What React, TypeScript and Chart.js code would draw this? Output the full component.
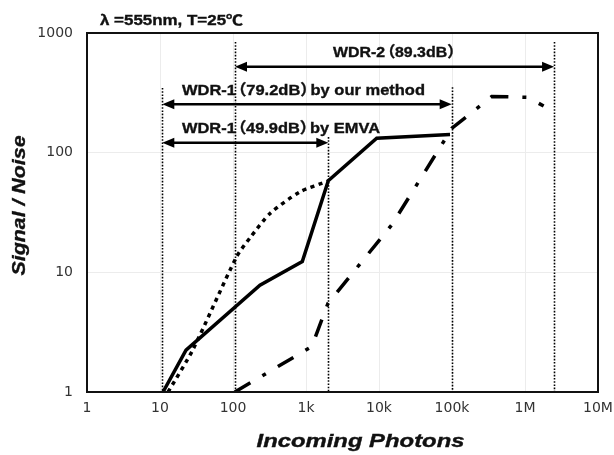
import React, { useEffect, useRef } from "react";
import { Chart, registerables } from "chart.js";

Chart.register(...registerables);

// ---- data ----
const xTickValues = [1, 10, 100, 1e3, 1e4, 1e5, 1e6, 1e7];
const xTickLabels = ["1", "10", "100", "1k", "10k", "100k", "1M", "10M"];
const yTickValues = [1, 10, 100, 1000];
const yTickLabels = ["1", "10", "100", "1000"];

const solidX = [11, 22.7, 234, 890, 2020, 9300, 94000];
const solidY = [1, 2.24, 7.8, 12.3, 58.3, 132, 142];

const dottedX = [12.9, 28, 112, 171, 321, 827, 2020];
const dottedY = [1, 2.24, 13.5, 19.4, 31, 47, 58];

const dashDotX = [106, 1200, 2000, 15000, 100000, 350000, 1100000, 1800000];
const dashDotY = [1, 2.4, 5.5, 25, 160, 295, 290, 245];

// vertical dotted reference lines (x value, top y value)
const markerX = [10.75, 106.5, 2020, 99000, 2.5e6];
const markerTop = [347, 841, 135, 352, 841];

// WDR range arrows
const arrowText = ["WDR-2（89.3dB）", "WDR-1（79.2dB）by our method", "WDR-1（49.9dB）by EMVA"];
const arrowFrom = [106.5, 10.75, 10.75];
const arrowTo = [2.5e6, 99000, 2020];
const arrowY = [522, 254, 121];

const titleText = "λ =555nm, T=25℃";
const xTitle = "Incoming Photons";
const yTitle = "Signal / Noise";

const toPts = (xs: number[], ys: number[]) => xs.map((x, i) => ({ x, y: ys[i] }));

const SANS = '"Liberation Sans", Arial, "Noto Sans CJK JP", sans-serif';
const CJK = '"Noto Sans CJK JP", sans-serif';

function drawFitted(
  ctx: CanvasRenderingContext2D,
  text: string,
  x: number,
  y: number,
  style: string,
  size: number,
  width: number,
  align: "left" | "center",
  rotate = false
) {
  ctx.save();
  const parts = text.split(/([（）])/).filter((p) => p.length > 0);
  const runs: { s: string; font: string; adv: number; off: number }[] = [];
  let total = 0;
  for (const p of parts) {
    if (p === "（" || p === "）") {
      const font = `${style} ${size}px ${CJK}`;
      const adv = size * 0.62;
      const off = p === "（" ? -size * 0.36 : size * 0.0;
      runs.push({ s: p, font, adv, off });
      total += adv;
    } else {
      const font = `${style} ${size}px ${SANS}`;
      ctx.font = font;
      const adv = ctx.measureText(p).width;
      runs.push({ s: p, font, adv, off: 0 });
      total += adv;
    }
  }
  const sx = width / total;
  ctx.translate(x, y);
  if (rotate) ctx.rotate(-Math.PI / 2);
  ctx.scale(sx, 1);
  let cx = align === "center" ? -total / 2 : 0;
  ctx.textAlign = "left";
  ctx.textBaseline = "alphabetic";
  ctx.fillStyle = "#111";
  ctx.strokeStyle = "#111";
  ctx.lineWidth = 0.35;
  for (const r of runs) {
    ctx.font = r.font;
    ctx.fillText(r.s, cx + r.off, 0);
    ctx.strokeText(r.s, cx + r.off, 0);
    cx += r.adv;
  }
  ctx.restore();
}

function arrowHead(ctx: CanvasRenderingContext2D, tipX: number, y: number, dir: number) {
  const len = 12;
  const half = 5;
  ctx.beginPath();
  ctx.moveTo(tipX, y);
  ctx.lineTo(tipX - dir * len, y - half);
  ctx.lineTo(tipX - dir * len, y + half);
  ctx.closePath();
  ctx.fill();
}

const decorPlugin = {
  id: "decor",
  beforeDatasetsDraw(chart: any) {
    const { ctx, chartArea, scales } = chart;
    const xs = scales.x;
    const ys = scales.y;
    ctx.save();
    ctx.strokeStyle = "#000";
    ctx.lineWidth = 1.6;
    ctx.setLineDash([1.6, 1.6]);
    markerX.forEach((v, i) => {
      const px = Math.round(xs.getPixelForValue(v)) + 0.5;
      const top = ys.getPixelForValue(markerTop[i]);
      ctx.beginPath();
      ctx.moveTo(px, top);
      ctx.lineTo(px, chartArea.bottom);
      ctx.stroke();
    });
    ctx.restore();
  },
  afterDatasetsDraw(chart: any) {
    const { ctx, chartArea, scales } = chart;
    const xs = scales.x;
    const ys = scales.y;
    ctx.save();
    ctx.strokeStyle = "#000";
    ctx.fillStyle = "#000";
    ctx.lineWidth = 2.5;
    arrowFrom.forEach((f, i) => {
      const x1 = xs.getPixelForValue(f);
      const x2 = xs.getPixelForValue(arrowTo[i]);
      const py = ys.getPixelForValue(arrowY[i]);
      ctx.beginPath();
      ctx.moveTo(x1 + 8, py);
      ctx.lineTo(x2 - 8, py);
      ctx.stroke();
      arrowHead(ctx, x1, py, -1);
      arrowHead(ctx, x2, py, 1);
    });
    ctx.lineWidth = 2;
    ctx.strokeStyle = "#111";
    ctx.strokeRect(chartArea.left, chartArea.top, chartArea.right - chartArea.left, chartArea.bottom - chartArea.top);
    ctx.restore();

    const L = chartArea.left;
    const T = chartArea.top;
    drawFitted(ctx, titleText, L + 13, T - 8, "bold", 14, 143, "left");
    drawFitted(ctx, arrowText[0], L + 246, T + 24, "bold", 15, 124, "left");
    drawFitted(ctx, arrowText[1], L + 95, T + 62, "bold", 15, 243, "left");
    drawFitted(ctx, arrowText[2], L + 95, T + 100, "bold", 15, 198, "left");
    drawFitted(ctx, xTitle, (chartArea.left + chartArea.right) / 2 + 18, chartArea.bottom + 55, "italic bold", 18, 208, "center");
    drawFitted(ctx, yTitle, L - 62, (chartArea.top + chartArea.bottom) / 2 - 7, "italic bold", 18, 140, "center", true);
  },
};

export default function App() {
  const ref = useRef<HTMLCanvasElement | null>(null);
  useEffect(() => {
    if (!ref.current) return;
    const chart = new Chart(ref.current, {
      type: "line",
      data: {
        datasets: [
          {
            data: toPts(solidX, solidY),
            borderColor: "#000",
            borderWidth: 3.5,
            pointRadius: 0,
            tension: 0,
          },
          {
            data: toPts(dottedX, dottedY),
            borderColor: "#000",
            borderWidth: 3.5,
            borderDash: [4, 4.5],
            pointRadius: 0,
            tension: 0.25,
          },
          {
            data: toPts(dashDotX, dashDotY),
            borderColor: "#000",
            borderWidth: 3.5,
            borderDash: [18, 14, 4, 14],
            pointRadius: 0,
            tension: 0,
          },
        ],
      },
      options: {
        animation: false,
        responsive: false,
        devicePixelRatio: 1,
        layout: { padding: { left: 0, right: 16, top: 33, bottom: 0 } },
        plugins: { legend: { display: false }, tooltip: { enabled: false } },
        scales: {
          x: {
            type: "logarithmic",
            min: 1,
            max: 1e7,
            border: { display: false },
            grid: { color: "#ececec", lineWidth: 1, drawTicks: false },
            afterBuildTicks: (s: any) => {
              s.ticks = xTickValues.map((v) => ({ value: v }));
            },
            afterFit: (s: any) => {
              s.height = 63;
              s.paddingLeft = 0;
              s.paddingRight = 0;
            },
            ticks: {
              padding: 8,
              color: "#333",
              font: { family: '"DejaVu Sans"', size: 14 },
              maxRotation: 0,
              autoSkip: false,
              callback: (_v: any, i: number) => xTickLabels[i],
            },
          },
          y: {
            type: "logarithmic",
            min: 1,
            max: 1000,
            border: { display: false },
            grid: { color: "#ececec", lineWidth: 1, drawTicks: false },
            afterBuildTicks: (s: any) => {
              s.ticks = yTickValues.map((v) => ({ value: v }));
            },
            afterFit: (s: any) => {
              s.width = 87;
              s.paddingTop = 0;
              s.paddingBottom = 0;
            },
            ticks: {
              padding: 14,
              color: "#333",
              font: { family: '"DejaVu Sans"', size: 14 },
              autoSkip: false,
              callback: (_v: any, i: number) => yTickLabels[i],
            },
          },
        },
      },
      plugins: [decorPlugin],
    });
    return () => chart.destroy();
  }, []);
  return (
    <div style={{ position: "fixed", left: 0, top: 0, width: 614, height: 455, background: "#fff" }}>
      <canvas ref={ref} width={614} height={455} style={{ display: "block" }} />
    </div>
  );
}
